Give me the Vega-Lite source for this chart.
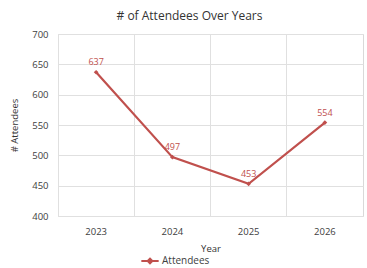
{
  "$schema": "https://vega.github.io/schema/vega-lite/v6.json",
  "width": 305,
  "height": 182,
  "autosize": {"type": "none"},
  "padding": {"left": 58, "top": 34, "right": 4, "bottom": 52},
  "background": "white",
  "title": {
    "text": "# of Attendees Over Years",
    "fontSize": 12,
    "font": "Open Sans",
    "fontWeight": "normal",
    "color": "#333333",
    "anchor": "middle",
    "dx": -21,
    "offset": 6
  },
  "data": {
    "values": [
      {"Year": "2023", "Attendees": 637, "series": "Attendees"},
      {"Year": "2024", "Attendees": 497, "series": "Attendees"},
      {"Year": "2025", "Attendees": 453, "series": "Attendees"},
      {"Year": "2026", "Attendees": 554, "series": "Attendees"}
    ]
  },
  "encoding": {
    "x": {
      "field": "Year",
      "type": "ordinal",
      "scale": {"type": "band", "paddingInner": 0, "paddingOuter": 0},
      "axis": {
        "title": "Year",
        "labelAngle": 0,
        "bandPosition": 0,
        "grid": true,
        "ticks": false,
        "domain": false,
        "labelPadding": 10,
        "titlePadding": 8
      }
    },
    "y": {
      "field": "Attendees",
      "type": "quantitative",
      "scale": {"domain": [400, 700], "nice": false},
      "axis": {
        "title": "# Attendees",
        "values": [400, 450, 500, 550, 600, 650, 700],
        "grid": true,
        "ticks": false,
        "domain": false,
        "labelPadding": 10,
        "titlePadding": 12
      }
    }
  },
  "layer": [
    {
      "mark": {"type": "line", "color": "#c0504d", "strokeWidth": 2.2, "point": {"filled": true, "size": 22, "shape": "diamond", "color": "#c0504d"}},
      "encoding": {
        "color": {
          "field": "series",
          "type": "nominal",
          "scale": {"range": ["#c0504d"]},
          "legend": {
            "title": null,
            "orient": "none",
            "legendX": 82,
            "legendY": 217,
            "symbolType": "M-1,0L1,0M0,-0.25L0.25,0L0,0.25L-0.25,0Z",
            "symbolSize": 300,
            "symbolStrokeWidth": 2.2,
            "symbolFillColor": "#c0504d",
            "labelFontSize": 10,
            "labelFont": "Open Sans",
            "labelColor": "#404040",
            "labelOffset": 2
          }
        }
      }
    },
    {
      "mark": {"type": "text", "dy": -10, "fontSize": 9, "font": "Open Sans", "color": "#c0504d"},
      "encoding": {"text": {"field": "Attendees", "type": "quantitative"}}
    }
  ],
  "config": {
    "view": {"stroke": "#d9d9d9", "strokeWidth": 1},
    "axis": {
      "gridColor": "#e0e0e0",
      "labelFont": "Open Sans",
      "labelFontSize": 9.5,
      "labelColor": "#404040",
      "titleFont": "Open Sans",
      "titleFontSize": 9.5,
      "titleFontWeight": "normal",
      "titleColor": "#333333"
    }
  }
}
